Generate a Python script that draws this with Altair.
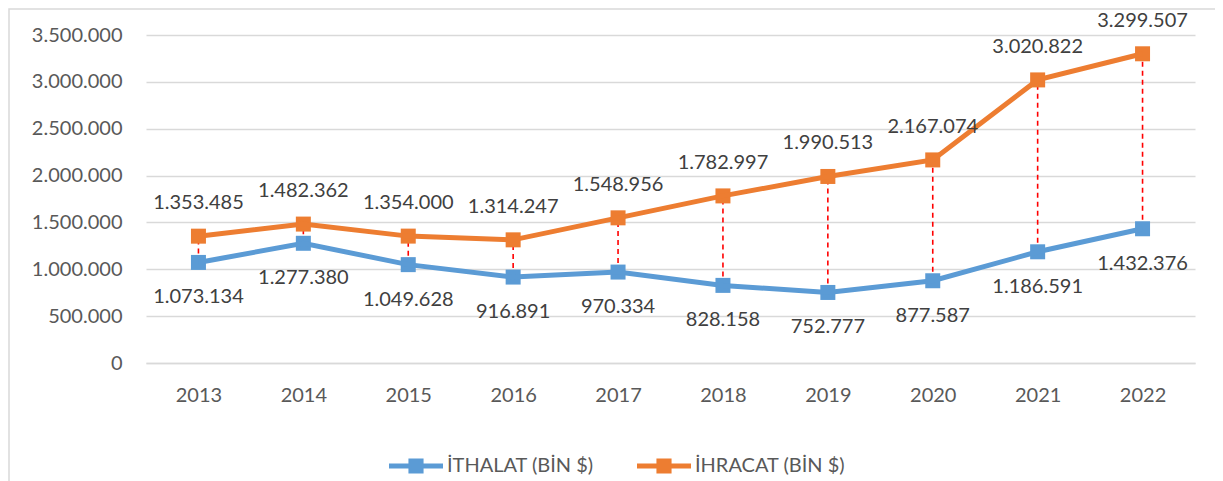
import altair as alt
import pandas as pd

years = ["2013", "2014", "2015", "2016", "2017", "2018", "2019", "2020", "2021", "2022"]
ithalat = [1073134, 1277380, 1049628, 916891, 970334, 828158, 752777, 877587, 1186591, 1432376]
ihracat = [1353485, 1482362, 1354000, 1314247, 1548956, 1782997, 1990513, 2167074, 3020822, 3299507]
series_names = ["İTHALAT (BİN $)", "İHRACAT (BİN $)"]
series_colors = ["#5b9bd5", "#ed7d31"]
y_ticks = [0, 500000, 1000000, 1500000, 2000000, 2500000, 3000000, 3500000]

long_df = pd.DataFrame(
    {
        "year": years * 2,
        "series": [series_names[0]] * len(years) + [series_names[1]] * len(years),
        "value": ithalat + ihracat,
    }
)
wide_df = pd.DataFrame({"year": years, "ithalat": ithalat, "ihracat": ihracat})

FONT = "Lato"
W, H = 1049, 328

x_enc = alt.X("year:O", sort=years, title=None,
              scale=alt.Scale(type="point", padding=0.5),
              axis=alt.Axis(labelAngle=0, ticks=False, domainColor="#d9d9d9",
                            domainWidth=1.5, labelPadding=22, labelFontSize=20,
                            labelColor="#595959", labelFont=FONT, grid=False))
y_scale = alt.Scale(domain=[0, 3500000], nice=False)
y_axis = alt.Axis(values=y_ticks, format=",d", ticks=False, domain=False,
                  gridColor="#d9d9d9", gridWidth=1.5, labelPadding=24,
                  labelFontSize=20, labelColor="#595959", labelFont=FONT)

legend_path = "M-1,-0.09H1V0.09H-1Z M-0.28,-0.28H0.28V0.28H-0.28Z"
color_scale = alt.Scale(domain=series_names, range=series_colors)
legend = alt.Legend(
    title=None, orient="none", direction="horizontal",
    legendX=243, legendY=404,
    symbolType=legend_path, symbolSize=2916, symbolStrokeWidth=0,
    symbolOpacity=1,
    labelFontSize=20, labelColor="#595959", labelFont=FONT,
    labelOffset=4, columnPadding=43,
)

border = alt.Chart(pd.DataFrame({"a": [0]})).mark_rect(
    fill=None, stroke="#d9d9d9", strokeWidth=1.5
).encode(x=alt.value(-137), x2=alt.value(2000), y=alt.value(-26), y2=alt.value(2000))

base = alt.Chart(long_df)

grid_layer = base.mark_line(opacity=0).encode(
    x=x_enc,
    y=alt.Y("value:Q", scale=y_scale, axis=y_axis, title=None),
)

rules = alt.Chart(wide_df).mark_rule(color="#ff0000", strokeDash=[5, 4], strokeWidth=1.6).encode(
    x=alt.X("year:O", sort=years),
    y=alt.Y("ithalat:Q", scale=y_scale),
    y2="ihracat:Q",
)

markers = base.mark_square(size=225, filled=True, opacity=1).encode(
    x=alt.X("year:O", sort=years),
    y=alt.Y("value:Q", scale=y_scale),
    color=alt.Color("series:N", scale=color_scale, legend=legend),
)

lines = base.mark_line(strokeWidth=5).encode(
    x=alt.X("year:O", sort=years),
    y=alt.Y("value:Q", scale=y_scale),
    color=alt.Color("series:N", scale=color_scale, legend=legend),
)

labels_hi = base.transform_filter(alt.datum.series == series_names[1]).mark_text(
    dy=-33, fontSize=20, font=FONT, color="#404040"
).encode(x=alt.X("year:O", sort=years), y=alt.Y("value:Q", scale=y_scale),
         text=alt.Text("value:Q", format=",d"))

labels_lo = base.transform_filter(alt.datum.series == series_names[0]).mark_text(
    dy=35, fontSize=20, font=FONT, color="#404040"
).encode(x=alt.X("year:O", sort=years), y=alt.Y("value:Q", scale=y_scale),
         text=alt.Text("value:Q", format=",d"))

chart = alt.layer(border, grid_layer, rules, markers, lines, labels_hi, labels_lo).properties(
    width=W, height=H,
    autosize=alt.AutoSizeParams(type="none"),
    padding={"left": 138, "top": 27, "right": 20, "bottom": 118},
).configure(
    locale={"number": {"decimal": ",", "thousands": ".", "grouping": [3], "currency": ["", ""]}},
    background="white",
).configure_view(stroke=None)

chart.save("out.html", embed_options={"renderer": "svg", "actions": False})
